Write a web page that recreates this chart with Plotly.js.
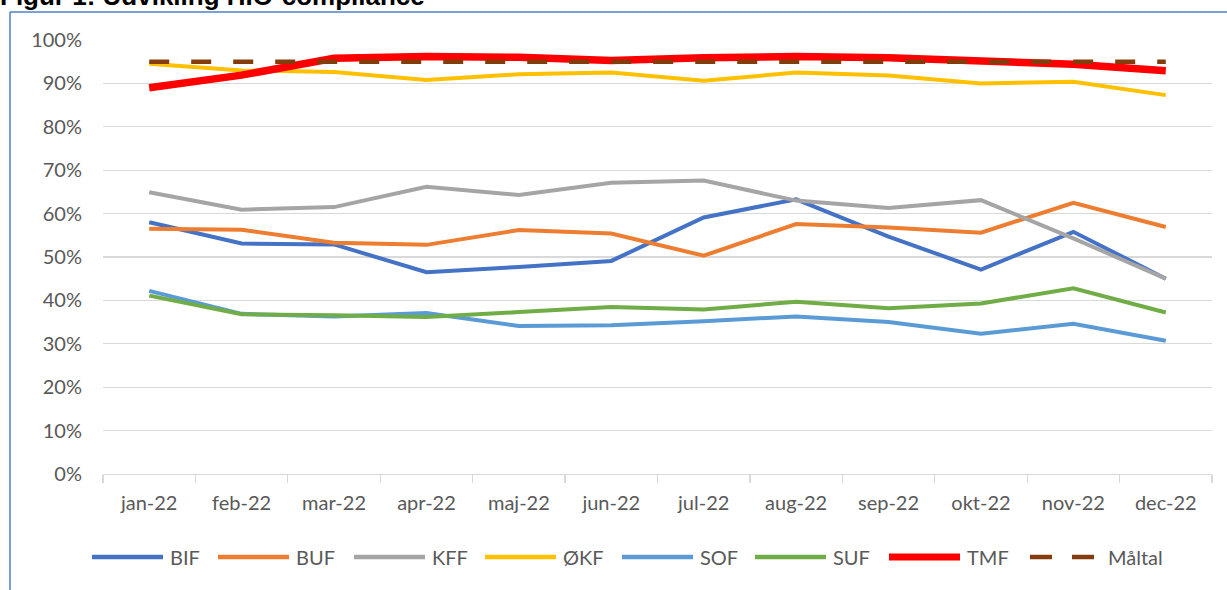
<!DOCTYPE html>
<html>
<head>
<meta charset="utf-8">
<script src="https://cdn.plot.ly/plotly-3.0.1.min.js"></script>
<style>
html,body{margin:0;padding:0;background:#fff;overflow:hidden;}
#chart{width:1227px;height:590px;}
</style>
</head>
<body>
<div id="chart"></div>
<script>
const months = ['jan-22','feb-22','mar-22','apr-22','maj-22','jun-22','jul-22','aug-22','sep-22','okt-22','nov-22','dec-22'];
const BIF = [58.0,53.1,52.9,46.5,47.7,49.1,59.1,63.3,54.7,47.1,55.8,45.0];
const BUF = [56.5,56.3,53.3,52.8,56.2,55.4,50.3,57.6,56.8,55.6,62.5,56.9];
const KFF = [64.9,60.9,61.5,66.2,64.3,67.1,67.6,63.0,61.3,63.1,54.3,45.0];
const OKF = [94.5,93.0,92.6,90.8,92.1,92.5,90.6,92.5,91.8,90.0,90.4,87.3];
const SOF = [42.2,36.9,36.3,37.1,34.1,34.3,35.2,36.3,35.0,32.3,34.6,30.7];
const SUF = [41.1,36.8,36.6,36.2,37.3,38.5,37.9,39.7,38.2,39.3,42.8,37.2];
const TMF = [89.0,91.9,95.8,96.2,96.0,95.3,95.9,96.2,95.9,95.2,94.4,92.9];
const MALTAL = [95,95,95,95,95,95,95,95,95,95,95,95];
const seriesNames = ['BIF','BUF','KFF','ØKF','SOF','SUF','TMF','Måltal'];
const chartTitle = 'Figur 1: Udvikling HIO-compliance';

const seriesData = [BIF,BUF,KFF,OKF,SOF,SUF,TMF,MALTAL];
const colors = ['#4472C4','#ED7D31','#A5A5A5','#FFC000','#5B9BD5','#70AD47','#FF0000','#843C0C'];
const widths = [4,4,4,4,4,4,7.5,4.5];
const dashes = ['solid','solid','solid','solid','solid','solid','solid','20px,22px'];

const FONT = 'Lato, "Open Sans", sans-serif';
const FS = 20;

const traces = seriesData.map((d,i)=>({
  type:'scatter', mode:'lines', x:months, y:d, name:seriesNames[i],
  line:{color:colors[i], width:widths[i], dash:dashes[i]},
  hoverinfo:'skip', showlegend:false
}));

// geometry for converting pixel layout positions to paper coords
const W=1227,H=590, ML=103, MR=15, MT=40, MB=116;
const PW=W-ML-MR, PH=H-MT-MB;
const px=x=>(x-ML)/PW;
const py=y=>(H-MB-y)/PH;

const shapes=[];
const annotations=[];
// frame (blue border)
shapes.push({type:'line',xref:'paper',yref:'paper',x0:px(10),x1:px(10),y0:py(12),y1:py(600),line:{color:'#4F81C7',width:1.5}});
shapes.push({type:'line',xref:'paper',yref:'paper',x0:px(10),x1:px(1240),y0:py(12),y1:py(12),line:{color:'#4F81C7',width:1.5}});

// custom legend
const legStarts=[92,218,354,485,622,755,889,1030];
const legY=557;
seriesNames.forEach((n,i)=>{
  const x0=legStarts[i], len = (i===7)?64:71;
  shapes.push({type:'line',xref:'paper',yref:'paper',x0:px(x0),x1:px(x0+len),y0:py(legY),y1:py(legY),
    line:{color:colors[i],width:(i===6)?7:4.5,dash:(i===7)?'22px,20px':'solid'}});
  annotations.push({xref:'paper',yref:'paper',x:px(x0+len+(i===7?12:5)),y:py(legY),xanchor:'left',yanchor:'middle',
    text:n,showarrow:false,font:{family:FONT,size:FS,color:'#595959'}});
});

// title (cut at top as in the reference)
annotations.push({xref:'paper',yref:'paper',x:px(-2),y:py(-4),xanchor:'left',yanchor:'middle',showarrow:false,
  text:'<b>'+chartTitle+'</b>',font:{family:'"Liberation Sans", Arial, sans-serif',size:26,color:'#000'}});

const layout={
  width:W,height:H,
  margin:{l:ML,r:MR,t:MT,b:MB,pad:0},
  paper_bgcolor:'#fff',plot_bgcolor:'#fff',
  showlegend:false,
  font:{family:FONT,size:FS,color:'#595959'},
  xaxis:{type:'category',tickson:'boundaries',ticks:'outside',ticklen:8,tickcolor:'#D9D9D9',tickwidth:1.3,
    showline:true,linecolor:'#D9D9D9',linewidth:1.3,showgrid:false,zeroline:false,
    tickfont:{family:FONT,size:FS,color:'#595959'},ticklabelstandoff:11,range:[-0.5,11.5],fixedrange:true},
  yaxis:{range:[0,100],dtick:10,tick0:0,ticksuffix:'%',showgrid:true,gridcolor:'#D9D9D9',gridwidth:1.3,
    zeroline:false,showline:false,ticks:'',tickfont:{family:FONT,size:FS,color:'#595959'},ticklabelstandoff:20,fixedrange:true},
  shapes:shapes,annotations:annotations
};
Plotly.newPlot('chart',traces,layout,{displayModeBar:false,staticPlot:true});
</script>
</body>
</html>
